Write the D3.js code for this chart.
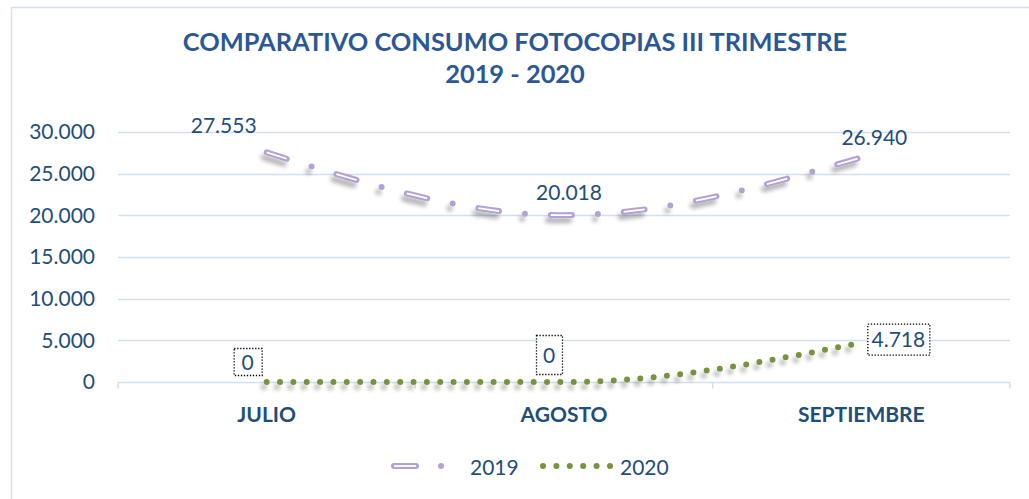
<!DOCTYPE html>
<html>
<head>
<meta charset="utf-8">
<script src="https://cdn.jsdelivr.net/npm/d3@7"></script>
<style>
  html, body { margin: 0; padding: 0; background: #fff; }
  svg { display: block; font-family: Lato, "Open Sans", sans-serif; }
</style>
</head>
<body>
<svg id="chart" width="1029" height="499"></svg>
<script>
const months = ["JULIO", "AGOSTO", "SEPTIEMBRE"];
const values2019 = [27553, 20018, 26940];
const values2020 = [0, 0, 4718];
const yTicks = [0, 5000, 10000, 15000, 20000, 25000, 30000];
const titleLines = ["COMPARATIVO CONSUMO FOTOCOPIAS III TRIMESTRE", "2019 - 2020"];

const purple = "#b3a2d5";
const green = "#77933c";
const navy = "#1f4e79";
const grid = "#d3e0f1";

const svg = d3.select("#chart");
const margin = { left: 118, right: 19, top: 132, bottom: 117 };
const width = 1029, height = 499;

const fmt = (v) => d3.format(",")(v).replace(/,/g, ".");

const x = d3.scaleBand().domain(months).range([margin.left, width - margin.right]);
const y = d3.scaleLinear().domain([0, 30000]).range([height - margin.bottom, margin.top]);
const cx = (m) => x(m) + x.bandwidth() / 2;

// drop shadow used by both lines
const defs = svg.append("defs");
const f = defs.append("filter").attr("id", "shadow")
  .attr("x", "-10%").attr("y", "-50%").attr("width", "120%").attr("height", "200%");
f.append("feGaussianBlur").attr("in", "SourceAlpha").attr("stdDeviation", 2).attr("result", "b");
f.append("feOffset").attr("in", "b").attr("dx", -3).attr("dy", 5).attr("result", "o");
f.append("feComponentTransfer").attr("in", "o").attr("result", "s")
  .append("feFuncA").attr("type", "linear").attr("slope", 0.3);
const fm = f.append("feMerge");
fm.append("feMergeNode").attr("in", "s");
fm.append("feMergeNode").attr("in", "SourceGraphic");

// chart frame (right and bottom sides fall outside the picture)
svg.append("rect")
  .attr("x", 11.5).attr("y", 7.5).attr("width", 1040).attr("height", 520)
  .attr("fill", "none").attr("stroke", "#d5e1f0").attr("stroke-width", 1.5);

// title
svg.append("g").selectAll("text").data(titleLines).join("text")
  .attr("x", 515).attr("y", (d, i) => 51 + i * 32)
  .attr("text-anchor", "middle")
  .attr("font-weight", "bold").attr("font-size", 25.4)
  .attr("fill", "#2b5797")
  .text((d) => d);

// gridlines
svg.append("g").selectAll("line").data(yTicks.filter((d) => d > 0)).join("line")
  .attr("x1", margin.left).attr("x2", width - margin.right)
  .attr("y1", (d) => Math.round(y(d)) + 0.5).attr("y2", (d) => Math.round(y(d)) + 0.5)
  .attr("stroke", grid).attr("stroke-width", 1.5);

// y axis labels
const yAxis = svg.append("g")
  .attr("transform", `translate(${margin.left},0)`)
  .call(d3.axisLeft(y).tickValues(yTicks).tickFormat(fmt).tickSize(0).tickPadding(23));
yAxis.select(".domain").remove();
yAxis.selectAll("text").attr("font-size", 21).attr("fill", navy)
  .attr("font-family", "Lato, sans-serif");

// x axis
const xAxisG = svg.append("g").attr("transform", `translate(0,${Math.round(y(0)) + 0.5})`);
xAxisG.append("line")
  .attr("x1", margin.left).attr("x2", width - margin.right)
  .attr("stroke", grid).attr("stroke-width", 1.5);
xAxisG.selectAll("line.tick").data(months.concat(["end"])).join("line")
  .attr("class", "tick")
  .attr("x1", (d) => d === "end" ? width - margin.right : x(d))
  .attr("x2", (d) => d === "end" ? width - margin.right : x(d))
  .attr("y1", 0).attr("y2", 6)
  .attr("stroke", grid).attr("stroke-width", 1.5);
xAxisG.selectAll("text").data(months).join("text")
  .attr("x", (d) => cx(d)).attr("y", 39)
  .attr("text-anchor", "middle")
  .attr("font-weight", "bold").attr("font-size", 21).attr("fill", navy)
  .text((d) => d);

const line = d3.line()
  .x((d, i) => cx(months[i]))
  .y((d) => y(d))
  .curve(d3.curveMonotoneX);

// 2020 series: round dots
svg.append("path")
  .datum(values2020)
  .attr("d", line)
  .attr("fill", "none")
  .attr("stroke", green).attr("stroke-width", 6)
  .attr("stroke-linecap", "round").attr("stroke-dasharray", "0 13.35")
  .attr("filter", "url(#shadow)");

// 2019 series: double-stroke dash, dot
const g19 = svg.append("g").attr("filter", "url(#shadow)");
g19.append("path")
  .datum(values2019)
  .attr("d", line)
  .attr("fill", "none")
  .attr("stroke", purple).attr("stroke-width", 6)
  .attr("stroke-linecap", "round").attr("stroke-dasharray", "21 26 0 26");
g19.append("path")
  .datum(values2019)
  .attr("d", line)
  .attr("fill", "none")
  .attr("stroke", "#fff").attr("stroke-width", 1.8)
  .attr("stroke-dasharray", "21 26 0 26");

// data labels (manually placed, as in the source chart)
const off2019 = [[-43, -28], [5, -24], [13, -21]];
const off2020 = [[-19, -21], [-15, -28], [37, -4]];

svg.append("g").selectAll("text").data(values2019).join("text")
  .attr("x", (d, i) => cx(months[i]) + off2019[i][0])
  .attr("y", (d, i) => y(d) + off2019[i][1])
  .attr("text-anchor", "middle").attr("dominant-baseline", "central")
  .attr("font-size", 21).attr("fill", navy)
  .text(fmt);

const boxPad = [[8, 3], [7, 9], [4, 5]];
const lab20 = svg.append("g").selectAll("g").data(values2020).join("g")
  .attr("transform", (d, i) =>
    `translate(${cx(months[i]) + off2020[i][0]},${y(d) + off2020[i][1]})`);
lab20.append("text")
  .attr("text-anchor", "middle").attr("dominant-baseline", "central")
  .attr("font-size", 21).attr("fill", navy)
  .text(fmt);
lab20.each(function (d, i) {
  const t = d3.select(this).select("text").node().getBBox();
  const [px, py] = boxPad[i];
  d3.select(this).insert("rect", "text")
    .attr("x", Math.round(t.x - px) + 0.5).attr("y", Math.round(t.y + 2 - py) + 0.5)
    .attr("width", Math.round(t.width + 2 * px)).attr("height", Math.round(t.height - 4 + 2 * py))
    .attr("fill", "#fff").attr("stroke", "#000").attr("stroke-width", 1.3)
    .attr("stroke-dasharray", "1.3 1.7");
});

// legend
const leg = svg.append("g").attr("transform", "translate(0,466)");
leg.append("line").attr("x1", 394).attr("x2", 416)
  .attr("stroke", purple).attr("stroke-width", 6).attr("stroke-linecap", "round");
leg.append("line").attr("x1", 394).attr("x2", 416)
  .attr("stroke", "#fff").attr("stroke-width", 1.8);
leg.append("circle").attr("cx", 441).attr("cy", 0).attr("r", 3).attr("fill", purple);
leg.append("text").attr("x", 470).attr("y", 0).attr("dominant-baseline", "central")
  .attr("font-size", 21).attr("fill", navy).text("2019");
leg.append("line").attr("x1", 543).attr("x2", 613)
  .attr("stroke", green).attr("stroke-width", 6)
  .attr("stroke-linecap", "round").attr("stroke-dasharray", "0 13.4");
leg.append("text").attr("x", 620).attr("y", 0).attr("dominant-baseline", "central")
  .attr("font-size", 21).attr("fill", navy).text("2020");
</script>
</body>
</html>
